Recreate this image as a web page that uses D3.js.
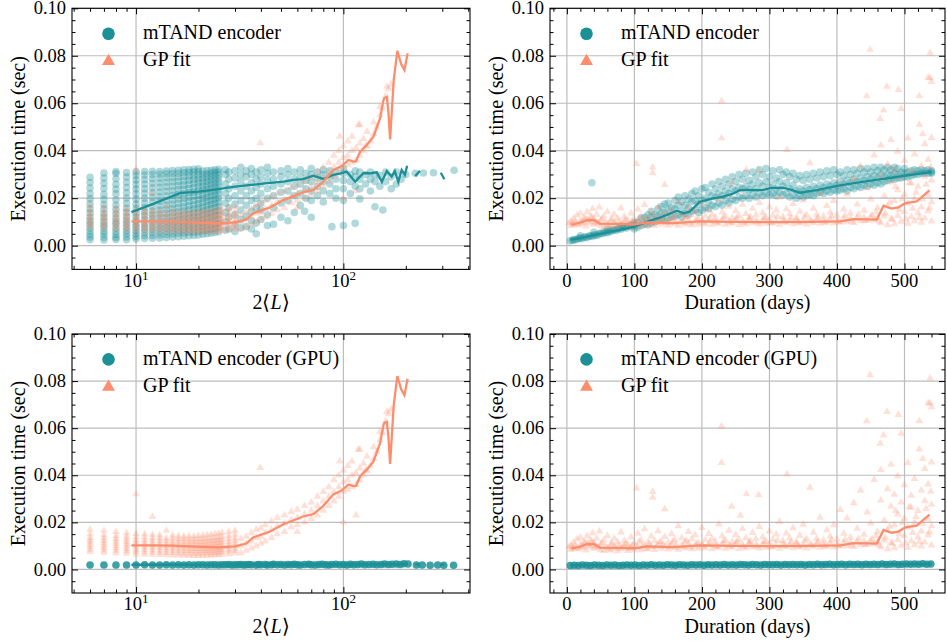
<!DOCTYPE html>
<html>
<head>
<meta charset="utf-8">
<script src="https://cdn.jsdelivr.net/npm/d3@7"></script>
<style>
  body { margin: 0; background: #fff; }
  svg { font-family: "Liberation Serif", "Times New Roman", serif; }
</style>
</head>
<body>
<script>
// all execution times below are in milliseconds

// CPU encoder vs 2<L> : discrete columns, then scattered points
const cpuLenCols = [
  [6,  [2.5,3.6,4.8,6.2,7.5,9,10.4,12,13.8,15.5,17.6,19.8,22,24.3,26.6,28.8]],
  [7,  [2.4,3.5,4.9,6.1,7.6,8.8,10.3,11.9,13.5,15.4,17.3,19.5,21.6,24.1,26.3,28.5,30.6]],
  [8,  [2.6,3.4,4.6,5.9,7.3,8.9,10.1,11.6,13.4,15.2,17.1,19.3,21.9,23.8,25.9,28.2,30.4,31.2]],
  [9,  [2.5,3.7,5,6.3,7.7,9.2,10.6,12.2,13.9,15.7,17.8,20.1,22.3,24.5,26.7,28.9,30.8]],
  [10, [2.8,3.9,5.1,6.4,7.8,9.1,10.5,12.1,13.7,15.6,17.5,19.6,21.8,23.9,25.8,27.7,29.6,31.1]],
  [11, [3,4.2,5.5,6.9,8.2,9.6,11,12.7,14.3,16.1,18,20,22.1,24,26,27.9,29.8,31.2]],
  [12, [3.1,4.3,5.6,7,8.4,9.9,11.4,13,14.6,16.4,18.3,20.3,22.4,24.4,26.3,28.2,30,31.3]],
  [13, [3.2,4.5,5.8,7.2,8.6,10.1,11.7,13.3,15,16.8,18.7,20.6,22.6,24.6,26.5,28.4,30.1,31.2]],
  [14, [3.4,4.7,6,7.4,8.8,10.3,11.9,13.6,15.3,17.1,19,20.9,22.9,24.8,26.7,28.6,30.3,31.4]],
  [15, [3.6,4.9,6.3,7.7,9.1,10.6,12.2,13.9,15.6,17.4,19.3,21.2,23.1,25,26.9,28.7,30.4,31.6]],
  [16, [3.8,5.2,6.6,8,9.5,11,12.6,14.2,16,17.8,19.7,21.6,23.5,25.3,27.1,28.9,30.5,31.8]],
  [17, [4,5.4,6.8,8.3,9.8,11.3,12.9,14.6,16.3,18.1,20,21.9,23.7,25.5,27.3,29.1,30.7,32]],
  [18, [4.2,5.7,7.1,8.6,10.1,11.7,13.3,15,16.8,18.6,20.4,22.3,24.1,25.9,27.6,29.3,30.9,32.1]],
  [19, [4.3,5.8,7.3,8.9,10.5,12.1,13.7,15.4,17.2,19,20.8,22.6,24.4,26.2,27.9,29.5,31,32.2]],
  [20, [4.5,6,7.6,9.2,10.8,12.4,14.1,15.8,17.6,19.4,21.2,23,24.8,26.5,28.1,29.7,31.2,32.4]],
  [21, [4.8,6.4,8,9.6,11.2,12.9,14.6,16.3,18.1,19.9,21.6,23.4,25.1,26.8,28.4,30,31.4]],
  [22, [5,6.6,8.3,10,11.7,13.4,15.1,16.9,18.6,20.4,22.1,23.8,25.5,27.1,28.7,30.2,31.6]],
  [23, [5.3,7,8.7,10.4,12.1,13.8,15.6,17.4,19.1,20.9,22.6,24.3,25.9,27.5,29,30.5,31.8]],
  [24, [5.6,7.3,9,10.8,12.6,14.3,16.1,17.9,19.6,21.3,23,24.7,26.3,27.9,29.4,30.8,32]],
  [25, [5.9,7.6,9.4,11.2,13,14.8,16.6,18.3,20.1,21.8,23.5,25.1,26.7,28.2,29.7,31,32.2]]
]
const cpuLenScatter = [
  [27,6.5],[27,10],[27,14],[27,18],[27,22],[27,26],[27,30],[27,32],
  [28,7],[28,12],[28,16],[28,20],[28,24],[28,28],[28,31],
  [30,6],[30,9],[30,13],[30,17.5],[30,21],[30,25],[30,28.5],[30,31.5],
  [32,7.5],[32,11],[32,15],[32,19],[32,23],[32,27],[32,30],[32,33],
  [34,8],[34,12.5],[34,17],[34,21],[34,25],[34,29],[34,31.5],
  [36,7],[36,10.5],[36,14.5],[36,19],[36,23],[36,26.5],[36,30],[36,32.5],
  [38,5],[38,9.5],[38,16],[38,20],[38,24.5],[38,28],[38,31],
  [40,11],[40,15],[40,18],[40,22],[40,26],[40,29],[40,32],
  [43,8.5],[43,13],[43,20],[43,24],[43,27.5],[43,30.5],[43,33],
  [46,9],[46,16],[46,21],[46,25],[46,28],[46,31],
  [50,12],[50,18],[50,22.5],[50,26],[50,29],[50,31.5],
  [54,10.5],[54,19],[54,23],[54,27],[54,30],[54,32.5],
  [58,14],[58,21],[58,25],[58,28],[58,31],
  [62,17],[62,22],[62,26],[62,29],[62,32],
  [65,14.5],[66,20],[66,24],[66,27.5],[66,30.5],
  [70,12],[70,19],[70,23],[70,27],[70,30],[70,32.5],
  [75,21],[75,25],[75,28.5],[75,31],
  [80,18.4],[80,23],[80,27],[80,30],[80,32],
  [86,22],[86,26],[86,29],[86,31.5],[88,8],
  [92,20],[92,24],[92,28],[92,31],
  [100,8.5],[100,19],[100,24],[100,27.5],[100,30.5],[100,32.5],
  [108,22],[108,27],[108,30],[114,9.4],[114,25],[114,29],[114,31.5],
  [120,19.7],[120,24],[120,28],[120,31],[128,26],[128,30],[135,23],[135,28],[135,31],
  [142,16.4],[142,27],[142,30],[150,25],[150,29.5],[155,15],[160,27],[160,31],
  [170,24],[170,29],[180,26],[180,31],[190,28],[200,30],
  [222,30.5],[243,30.6],[272,30.7],[342,31.8]
]
const cpuLenLine = [
  [9.5,14.1],[12,17.5],[16.3,22.1],[20,22.8],[25,23.8],[29.4,24.8],[35,25.5],[42,26.2],
  [51.4,27],[57.4,27.7],[64,28],[71.6,29.5],[80,28.1],[89.5,29.8],[96,30.3],[103.8,31.2],
  [113.9,26.9],[124.9,30.5],[134.5,30.5],[144.9,30.9],[153.2,26.9],[162,31.4],[171,29.1],
  [177,31.4],[184,26.9],[191,31.9],[198,29.8],[203,33.7],
  null, [222,29.3],[234,31.5], null, [295,30.7],[307,28]
]

// GP fit vs 2<L> (shared by both left panels)
const gpLenCols = [
  [6,  [7.5,8.5,9.5,10.5,11.5,12.5,13.5,15,17]],
  [7,  [7.2,8.2,9.2,10.2,11.2,12.2,13.3,14.5,16.5]],
  [8,  [7,8,9,10,11,12,13,14.2,16]],
  [9,  [6.8,7.8,8.8,9.8,10.8,11.8,12.8,14,15.5]],
  [10, [6.5,7.5,8.5,9.5,10.5,11.5,12.5,13.8,15.2,32]],
  [11, [6.4,7.4,8.4,9.4,10.4,11.4,12.5,13.7,15]],
  [12, [6.3,7.3,8.3,9.3,10.3,11.3,12.4,13.5,14.8,22.4]],
  [13, [6.2,7.2,8.2,9.2,10.2,11.2,12.3,13.4,14.6]],
  [14, [6.1,7.1,8.1,9.1,10.1,11.1,12.2,13.3,16.5]],
  [15, [6,7,8,9,10,11,12,13.2,14.4]],
  [16, [6,7,8,9,10,11,12,13,14.2]],
  [17, [5.9,6.9,7.9,8.9,9.9,10.9,11.9,13,14]],
  [18, [5.9,6.9,7.9,8.9,9.9,10.9,11.9,12.9,14.2]],
  [19, [5.8,6.8,7.8,8.8,9.8,10.8,11.8,12.8,14]],
  [20, [5.8,6.8,7.8,8.8,9.8,10.8,11.8,12.9,14.3]],
  [21, [5.9,6.9,7.9,8.9,9.9,10.9,11.9,13,14.4]],
  [22, [5.9,6.9,7.9,8.9,9.9,10.9,12,13.1,14.6]],
  [23, [6,7,8,9,10,11,12.1,13.3,14.8]],
  [24, [6.1,7.1,8.1,9.1,10.1,11.1,12.2,13.4,15]],
  [25, [6.2,7.2,8.2,9.2,10.2,11.3,12.4,13.6,15.3]],
  [26, [6.4,7.4,8.4,9.4,10.4,11.5,12.6,13.9,15.6]],
  [28, [6.6,7.6,8.6,9.6,10.7,11.8,13,14.3,16]],
  [30, [6.9,7.9,8.9,10,11.1,12.2,13.4,14.8,16.5]]
]
const gpLenScatter = [
  [32,7],[32,10],[32,13],[34,8],[34,11],[34,14],[36,9],[36,12],[36,15.5],[38,10],[38,13.5],[38,17],
  [40,11],[40,14],[40,17.5],[39.7,43.2],[42,12],[42,15.5],[42,19],[45,13.5],[45,17],[45,20.5],
  [48,15],[48,18.5],[48,22],[52,16],[52,19.5],[52,23],[56,18],[56,21],[56,24.5],
  [60,16],[60,19],[60,22],[60,25.5],[65,20],[65,23.5],[65,27],[70,21.5],[70,25],[70,28.5],
  [75,23],[75,27],[75,31],[80,25],[80,29],[80,33],[85,27],[85,31],[85,35],
  [90,29],[90,33],[90,38],[95,31],[95,35],[95,40],[96,46],[100,20],[100,33],[100,37],[100,42],
  [105,34],[105,38],[105,44],[110,35],[110,40],[110,46],[115,23],[115,36],[115,41],
  [118,50.8],[120,38],[120,43],[120,51],[125,40],[125,45],[128,42],[130,42],[130,48],
  [135,44],[140,47],[140,52],[145,50],[150,55],[150,58.5],[155,58],[160,63],[162,67],
  [165,66],[170,68]
]
const gpLenLine = [
  [9.5,10.2],[12,10.2],[15,10.1],[18,9.8],[21,9.6],[25,9.4],[30,9.8],[34,11],[36.7,13.6],
  [44,16],[51.4,19.2],[58,21],[64,22.5],[71.6,23.5],[80,27],[89.5,31.9],[98,33.5],
  [105.8,36.1],[111.7,35.4],[115,35.5],[120.4,39.6],[130,42.5],[139.6,45.9],[150.3,53.6],
  [156,61.3],[158,62.3],[162,62.7],[165,56],[168,44.8],[175,70],[182,82.1],[190,76.5],
  [197,74],[204,81]
]

// GPU encoder vs 2<L>
const gpuLen = [
  [6,1.9],[7,1.9],[8,1.9],[9,1.9],[10,1.9],[11,2],[12,1.9],[13,1.9],[14,2],[15,1.9],[16,2],
  [17,1.9],[18,2],[19,1.9],[20,2],[21,2],[22,1.9],[23,2],[24,2],[25,1.9],[26,2],[27,2],[28,2.1],
  [29,1.9],[30,2],[31,2],[32,2.1],[33,1.9],[34,2],[35,2.1],[36,2],[38,1.9],[39,2.1],[40,2],
  [42,2.1],[43,1.9],[45,2],[46,2.2],[48,2],[50,2.1],[52,1.9],[54,2.1],[56,2],[58,2.2],[60,2],
  [62,1.9],[65,2.1],[68,2.2],[70,2],[73,1.9],[76,2.1],[79,2.2],[82,2],[85,1.9],[88,2.1],[92,2.2],
  [96,2],[100,2.1],[104,1.9],[108,2.2],[112,2],[117,2.1],[122,2.3],[127,2],[133,2.1],[139,2.2],
  [145,2],[152,2.1],[158,2.3],[165,2.1],[172,2.2],[180,2.3],[188,2.1],[196,2.4],[205,2.3],
  [225,1.9],[240,1.9],[262,1.8],[285,1.9],[305,1.8],[340,1.8]
]
const gpuLenLine = [
  [9.5,2],[25,2],[60,2.1],[100,2.1],[160,2.2],[190,2.2],[205,2.4],
  null, [222,2.2],[234,2.1], null, [295,2.1],[307,1.9]
]

// CPU encoder vs duration (days)
const cpuDur = [
  [5,2],[8,2.3],[10,2.6],[12,2.4],[15,2.8],[18,3],[20,3.3],[20,4.2],[22,2.9],[25,3.5],[28,3.7],
  [30,3.4],[33,4],[35,4.2],[37,26.5],[38,3.9],[40,4.5],[40,5.6],[43,4.6],[45,4.3],[48,5],[50,5.2],
  [53,5],[55,5.6],[58,5.8],[60,5.4],[60,6.8],[63,6.2],[65,6],[68,6.5],[70,6.8],[73,6.4],[75,7],
  [78,7.3],[80,6.9],[80,8.3],[83,7.6],[85,7.8],[88,7.4],[90,8.2],[93,8.5],[95,8],[98,8.8],
  [100,8.3],[100,9.6],[100,7],
  [105,7.8],[105,10],[110,8.5],[110,11.5],[115,9],[115,12],[120,8.8],[120,10.5],[120,13],
  [125,9.5],[125,12],[125,14.5],[130,10],[130,13],[135,10.5],[135,12.5],[135,15.5],
  [140,11],[140,13.5],[140,16.5],[145,10.5],[145,14],[145,17.5],[150,11.5],[150,15],[150,18],
  [155,12],[155,16],[160,12.5],[160,15.5],[160,19],[165,13],[165,17],[165,20.5],
  [170,12],[170,14.5],[170,18.5],[175,13.5],[175,17],[175,21],[180,13],[180,16],[180,19.5],
  [185,14.5],[185,18.5],[185,22],[190,15],[190,19],[190,23],[195,14],[195,17.5],[195,21],
  [200,15],[200,19],[200,24],
  [205,16],[205,20],[205,24.5],[210,15.5],[210,18.5],[210,22.5],[215,17],[215,21],[215,26],
  [220,16.5],[220,20.5],[220,24],[225,18],[225,22],[225,27],[230,17],[230,21],[230,25],
  [235,19],[235,23],[235,28],[240,18],[240,22],[240,26],[245,19.5],[245,24],[245,29],
  [250,19],[250,23],[250,27],[255,20.5],[255,24.5],[255,30],[260,20],[260,24],[260,28],
  [265,21],[265,25],[265,30.5],[270,20],[270,23.5],[270,27.5],[275,21.5],[275,26],[275,31],
  [280,20.5],[280,24],[280,29],[285,22],[285,26.5],[285,32],[290,21],[290,25],[290,30],
  [295,22],[295,27],[295,32.5],[300,21.5],[300,24.5],[300,29],
  [305,22],[305,26],[305,31.5],[310,21],[310,24],[310,28.5],[315,22.5],[315,27],[315,32],
  [320,21.5],[320,25],[320,30],[325,22],[325,26.5],[325,31],[330,20.5],[330,24],[330,29],
  [335,21.5],[335,25.5],[335,30.5],[340,20],[340,23],[340,28],[345,21],[345,24],[345,29.5],
  [350,20.5],[350,23],[350,27.5],[355,21],[355,24.5],[355,30],[360,21.5],[360,23.5],[360,28],
  [365,21],[365,25],[365,30.5],[370,22],[370,24],[370,28.5],[375,22.5],[375,25.5],[375,31],
  [380,22],[380,24.5],[380,29],[385,23],[385,26],[385,31.5],[390,22.5],[390,25],[390,29.5],
  [395,23.5],[395,26.5],[395,32],[400,23],[400,25.5],[400,30],
  [405,23.5],[405,27],[405,31],[410,24],[410,26],[410,29.5],[415,23],[415,27.5],[415,32],
  [420,24.5],[420,26.5],[420,30],[425,24],[425,28],[425,32],[430,25],[430,27],[430,30.5],
  [435,24.5],[435,28.5],[435,32.5],[440,25.5],[440,27.5],[440,31],[445,25],[445,29],[445,32.5],
  [450,26],[450,28],[450,31],[455,25.5],[455,29.5],[455,33],[460,26.5],[460,28.5],[460,31.5],
  [465,26],[465,30],[465,33],[470,27],[470,29],[470,32],[475,27.5],[475,30],[475,33],
  [480,28],[480,29.5],[480,32],[485,28],[485,30.5],[485,33],[490,28.5],[490,30],[490,32.5],
  [495,28.5],[495,31],[500,29],[500,30.5],[500,32.5],[505,29],[505,31],[510,29.5],[510,31.5],
  [515,30],[515,32],[520,30],[520,31.5],[525,30.5],[525,32],[530,30.5],[530,31.5],
  [535,30.5],[535,32],[540,30.5],[540,31.5],[540,31]
]
const cpuDurLine = [
  [5,2.5],[20,3.2],[40,4.4],[60,5.6],[80,6.8],[100,8],[120,10.2],[140,12],[163,14.7],
  [173,13.6],[182,14.4],[197,18.5],[215,19.8],[230,20.6],[245,21.8],[256,23.4],[275,23.5],
  [290,23.4],[301,24.2],[320,24.4],[334,23.4],[345,22.3],[370,23.4],[400,25.2],[430,26.6],
  [460,27.8],[490,29],[520,30.2],[540,31]
]

// GP fit vs duration (shared by both right panels)
const gpDur = [
  [6,8.4],[6,10.2],[8,9.6],[10,8.8],[10,11.5],[14,9.2],[15,12.8],[18,8.6],[20,10.4],[20,13.6],
  [24,9.8],[25,11.8],[28,8.2],[30,10.9],[30,14.2],[34,9.4],[35,12.3],[38,15.5],[40,8.9],[40,11.2],
  [44,13.1],[45,9.7],[48,16.2],[50,8.3],[50,10.6],[55,7.9],[55,12.4],[60,9.1],[60,14.3],[65,8.1],
  [65,10.8],[70,9.5],[70,13.2],[75,7.8],[75,11.6],[80,8.7],[80,15.8],[85,9.8],[85,12.2],[90,7.9],
  [90,10.6],[95,9.2],[95,13.7],[100,8.1],[100,11.1],[103,34.5],[105,9.4],[105,15.3],[110,8.3],
  [110,12.4],[115,10.1],[115,17.2],[120,8.7],[120,11.5],[127,33],[127,30.6],[125,9.6],[125,14.1],
  [130,8.4],[130,12.1],[135,10.3],[135,16.3],[140,8.9],[140,11.8],[145,25.7],[145,9.7],[145,13.9],
  [150,8.6],[150,11.4],[155,10.5],[155,15.1],[160,9.2],[160,12.6],[165,8.5],[165,18.4],[170,10.2],
  [170,13.4],[175,9],[175,11.7],[180,10.8],[180,16],[185,8.7],[185,12.9],[190,9.9],[190,14.6],
  [195,8.9],[195,11.3],[200,10.4],[200,17.7],[205,9.1],[205,12.5],[210,10.6],[210,15.2],[215,8.8],
  [215,13.1],[220,10.1],[220,11.9],[225,9.3],[225,19.2],[229,60.8],[229,45.3],[230,10.7],[230,14.2],
  [235,8.9],[235,12.3],[240,10.2],[240,16.5],[244,26.7],[245,9.4],[245,11.8],[250,10.9],[250,14.7],
  [255,8.8],[257,22.9],[255,12.6],[260,10.3],[260,17.3],[265,9.1],[266,32],[265,13.4],[270,10.8],
  [270,11.6],[275,9.5],[275,15.6],[280,10.4],[280,12.9],[284,31.6],[285,9],[285,18.1],[290,10.6],
  [290,13.8],[295,9.3],[295,11.9],[300,10.8],[300,16.2],[305,9.4],[305,12.7],[310,10.3],[310,14.9],
  [315,8.9],[315,20.3],[320,10.7],[320,12.2],[326,40.4],[325,9.6],[325,15.4],[330,10.5],[330,13.3],
  [335,9.1],[335,17.6],[340,10.9],[340,11.8],[345,9.5],[345,14.4],[350,10.2],[350,19.1],[355,9],
  [355,12.9],[360,10.8],[360,34.8],[365,9.7],[365,15.7],[370,11],[370,13.1],[375,9.3],[375,22.1],
  [380,10.6],[380,12.4],[385,9.9],[385,16.8],[390,11.2],[390,14],[395,9.4],[395,18.9],[400,10.7],
  [400,12.8],[405,9.8],[405,25.4],[410,11.3],[410,15.3],[415,10],[415,21.7],[420,11.5],[420,13.6],
  [425,9.6],[425,28.2],[430,11.8],[430,17.4],[435,10.4],[435,33.5],[440,11.9],[440,14.8],[444,63],
  [445,10.6],[445,24.3],[449,82.6],[450,12.1],[450,19.6],[455,10.8],[455,38.1],[460,11.7],
  [460,15.9],[464,53.5],[465,9.5],[465,29.4],[465,42.3],[469,57],[470,12.4],[470,20.8],[474,67],
  [475,8.7],[475,34.2],[475,16.5],[480,11.3],[480,26.7],[480,44.6],[485,9.1],[485,18.9],[485,31.8],
  [491,65.7],[490,12.6],[490,23.4],[490,39.7],[495,57.7],[495,10.2],[495,28.5],[500,14.3],
  [500,21.6],[500,35.9],[505,9.3],[505,17.8],[505,45.2],[510,12.1],[510,26.3],[510,31.4],
  [515,10.4],[515,19.7],[515,38.5],[520,13.8],[520,24.9],[522,63],[522,51],[525,9.8],[525,16.2],
  [525,33.6],[527,47],[530,11.5],[530,29.1],[530,42.8],[535,70.7],[535,14.6],[535,21.3],
  [535,36.2],[538,81.2],[538,70.6],[540,69],[540,10.3],[540,18.4],[540,27.6],[540,45.5]
]
const gpDurBand = [
  [3,9.5],[12,10.1],[22,9.3],[27,11.4],[33,10.2],[37,11.9],[42,10.1],[47,9.2],[52,11.3],[57,9.8],
  [62,8.6],[67,11.1],[72,8.9],[77,10.3],[82,9.4],[87,10.9],[92,8.8],[97,10.4],[102,9.6],[107,11.7],
  [112,9.9],[117,8.9],[122,10.8],[132,9.7],[137,11.6],[142,10.1],[152,9.5],[157,11.9],[162,10.4],
  [172,9.6],[177,12.3],[182,9.4],[192,10.9],[202,9.8],[212,11.4],[222,9.6],[232,11.9],[242,9.8],
  [252,11.8],[262,9.7],[272,12.1],[282,9.9],[292,11.7],[302,9.6],[312,12.3],[322,10.1],[332,11.6],
  [342,9.9],[352,12.1],[362,10.3],[372,11.8],[382,9.8],[392,12.4],[402,10.1],[412,12.6],[422,10.3],
  [432,13.1],[442,10.5],[452,12.9],[458,14.2],[462,10.2],[472,13.5],[478,18.2],[482,10.9],
  [487,24.8],[492,15.1],[497,19.8],[502,11.2],[507,26.5],[512,15.6],[517,22.4],[522,11.8],
  [527,19.5],[532,25.8],[537,15.9],[539,33.1]
]
const gpDurLine = [
  [7,8.8],[18,9.6],[30,10.7],[40,10.7],[49,9.3],[75,9.2],[101,9],[118,9.8],[158,9.5],[198,10.2],
  [250,10],[306,9.9],[360,10],[405,10.2],[425,11.2],[459,11],[469,16.8],[481,15.6],[491,16.1],
  [501,17.9],[518,18.6],[537,23.3]
]

// GPU encoder vs duration
const gpuDur = [
  [5,1.7],[11,1.8],[17,1.7],[23,1.9],[29,1.8],[35,1.7],[41,1.9],[47,1.8],[53,1.7],[59,1.9],
  [65,1.8],[71,1.9],[77,1.7],[83,1.8],[89,1.9],[95,1.8],[101,1.9],[107,1.7],[113,1.9],[119,1.8],
  [125,2],[131,1.8],[137,1.9],[143,1.8],[149,2],[155,1.9],[161,1.8],[167,2],[173,1.9],[179,1.8],
  [185,2],[191,1.9],[197,2],[203,1.8],[209,2],[215,1.9],[221,2],[227,1.9],[233,2.1],[239,1.9],
  [245,2],[251,1.9],[257,2.1],[263,2],[269,1.9],[275,2.1],[281,2],[287,1.9],[293,2.1],[299,2],
  [305,2],[311,2.1],[317,1.9],[323,2.1],[329,2],[335,2.1],[341,2],[347,2.1],[353,1.9],[359,2.1],
  [365,2],[371,2.2],[377,2],[383,2.1],[389,2.2],[395,2],[401,2.1],[407,2.2],[413,2],[419,2.2],
  [425,2.1],[431,2.2],[437,2],[443,2.2],[449,2.1],[455,2.2],[461,2.1],[467,2.3],[473,2.1],
  [479,2.2],[485,2.3],[491,2.1],[497,2.2],[503,2.3],[509,2.2],[515,2.3],[521,2.2],[527,2.4],
  [533,2.2],[539,2.3]
]
const gpuDurLine = [[5,1.8],[100,1.85],[200,1.95],[300,2],[400,2.1],[540,2.25]]

// axes
const yMajor = [0, 0.02, 0.04, 0.06, 0.08, 0.10]
const yMinor = [-0.005, 0.005, 0.01, 0.015, 0.025, 0.03, 0.035, 0.045, 0.05, 0.055, 0.065, 0.07, 0.075, 0.085, 0.09, 0.095]
const lenMajor = [10, 100]
const lenMinor = [5, 6, 7, 8, 9, 20, 30, 40, 50, 60, 70, 80, 90, 200, 300, 400]
const durMajor = [0, 100, 200, 300, 400, 500]
const durMinor = [-20, 20, 40, 60, 80, 120, 140, 160, 180, 220, 240, 260, 280, 320, 340, 360, 380, 420, 440, 460, 480, 520, 540]

const teal = "#1b9097"
const salmon = "#fc8d6d"
const fsTick = 18.5
const fs = 20

const flat = cols => cols.flatMap(([x, ys]) => ys.map(v => [x, v]))

const panels = [
  {left: 72, right: 470, top: 8.3, bottom: 269.4, log: true, label: "mTAND encoder",
   teal: flat(cpuLenCols).concat(cpuLenScatter), tealLine: cpuLenLine, tealOp: 0.34,
   salmon: flat(gpLenCols).concat(gpLenScatter), salmonLine: gpLenLine},
  {left: 550, right: 945, top: 8.3, bottom: 269.4, log: false, label: "mTAND encoder",
   teal: cpuDur, tealLine: cpuDurLine, tealOp: 0.34, salmon: gpDur.concat(gpDurBand), salmonLine: gpDurLine},
  {left: 72, right: 470, top: 334, bottom: 593, log: true, label: "mTAND encoder (GPU)",
   teal: gpuLen, tealLine: gpuLenLine, tealOp: 0.85,
   salmon: flat(gpLenCols).concat(gpLenScatter), salmonLine: gpLenLine},
  {left: 550, right: 945, top: 334, bottom: 593, log: false, label: "mTAND encoder (GPU)",
   teal: gpuDur, tealLine: gpuDurLine, tealOp: 0.85, salmon: gpDur.concat(gpDurBand), salmonLine: gpDurLine}
]

const svg = d3.select("body").append("svg")
  .attr("width", 947)
  .attr("height", 643)

const tri = d3.symbol(d3.symbolTriangle, 26)
const triBig = d3.symbol(d3.symbolTriangle, 72)

const drawPanel = p => {
  const g = svg.append("g")
  const x = p.log
    ? d3.scaleLog().domain([4.91, 408]).range([p.left, p.right])
    : d3.scaleLinear().domain([-25, 560]).range([p.left, p.right])
  const y = d3.scaleLinear().domain([-0.01, 0.10]).range([p.bottom, p.top])
  const xMajor = p.log ? lenMajor : durMajor
  const xMinor = p.log ? lenMinor : durMinor

  // grid
  g.selectAll(".gx").data(xMajor).join("line")
    .attr("x1", d => x(d)).attr("x2", d => x(d))
    .attr("y1", p.top).attr("y2", p.bottom)
    .attr("stroke", "#bdbdbd").attr("stroke-width", 1.2)
  g.selectAll(".gy").data(yMajor).join("line")
    .attr("x1", p.left).attr("x2", p.right)
    .attr("y1", d => y(d)).attr("y2", d => y(d))
    .attr("stroke", "#bdbdbd").attr("stroke-width", 1.2)

  // scatter
  g.append("g").selectAll("circle").data(p.teal).join("circle")
    .attr("cx", d => x(d[0])).attr("cy", d => y(d[1] / 1000))
    .attr("r", 3.8).attr("fill", teal).attr("fill-opacity", p.tealOp)
  g.append("g").selectAll("path").data(p.salmon).join("path")
    .attr("d", tri)
    .attr("transform", d => `translate(${x(d[0])},${y(d[1] / 1000)})`)
    .attr("fill", salmon).attr("fill-opacity", 0.27)

  // mean lines
  const line = d3.line()
    .defined(d => d != null)
    .x(d => x(d[0])).y(d => y(d[1] / 1000))
  g.append("path").datum(p.tealLine).attr("d", line)
    .attr("fill", "none").attr("stroke", teal).attr("stroke-width", 2.3)
  g.append("path").datum(p.salmonLine).attr("d", line)
    .attr("fill", "none").attr("stroke", salmon).attr("stroke-width", 2.3)

  // ticks, inward on all four sides
  const tk = (axis, scale, vals, size, tr) => {
    g.append("g").attr("transform", tr)
      .call(axis(scale).tickValues(vals).tickSize(-size).tickSizeOuter(0).tickFormat(""))
      .call(a => a.select(".domain").remove())
  }
  tk(d3.axisBottom, x, xMajor, 6, `translate(0,${p.bottom})`)
  tk(d3.axisBottom, x, xMinor, 3.5, `translate(0,${p.bottom})`)
  tk(d3.axisTop, x, xMajor, 6, `translate(0,${p.top})`)
  tk(d3.axisTop, x, xMinor, 3.5, `translate(0,${p.top})`)
  tk(d3.axisLeft, y, yMajor, 6, `translate(${p.left},0)`)
  tk(d3.axisLeft, y, yMinor, 3.5, `translate(${p.left},0)`)
  tk(d3.axisRight, y, yMajor, 6, `translate(${p.right},0)`)
  tk(d3.axisRight, y, yMinor, 3.5, `translate(${p.right},0)`)

  g.append("rect")
    .attr("x", p.left).attr("y", p.top)
    .attr("width", p.right - p.left).attr("height", p.bottom - p.top)
    .attr("fill", "none").attr("stroke", "#000").attr("stroke-width", 1.1)

  // tick labels
  g.selectAll(".yl").data(yMajor).join("text")
    .attr("x", p.left - 6).attr("y", d => y(d)).attr("dy", "0.33em")
    .attr("text-anchor", "end").attr("font-size", fsTick)
    .text(d => d.toFixed(2))
  const xl = g.selectAll(".xl").data(xMajor).join("text")
    .attr("x", d => x(d)).attr("y", p.bottom + 17.3)
    .attr("text-anchor", "middle").attr("font-size", fsTick)
  if (p.log) {
    xl.append("tspan").text("10")
    xl.append("tspan").attr("dy", -7).attr("font-size", 13).text(d => Math.log10(d))
  } else {
    xl.text(d => d)
  }

  // axis titles
  const xt = g.append("text")
    .attr("x", (p.left + p.right) / 2).attr("y", p.bottom + 40)
    .attr("text-anchor", "middle").attr("font-size", fs)
  if (p.log) {
    xt.append("tspan").text("2\u27E8")
    xt.append("tspan").attr("font-style", "italic").text("L")
    xt.append("tspan").text("\u27E9")
  } else {
    xt.text("Duration (days)")
  }
  g.append("text")
    .attr("transform", `translate(${p.left - 47},${(p.top + p.bottom) / 2}) rotate(-90)`)
    .attr("text-anchor", "middle").attr("font-size", fs)
    .text("Execution time (sec)")

  // legend
  g.append("circle")
    .attr("cx", p.left + 36.5).attr("cy", p.top + 25.4).attr("r", 6.3).attr("fill", teal)
  g.append("path").attr("d", triBig)
    .attr("transform", `translate(${p.left + 36.5},${p.top + 53})`).attr("fill", salmon)
  g.append("text").attr("x", p.left + 71).attr("y", p.top + 31)
    .attr("font-size", fs).text(p.label)
  g.append("text").attr("x", p.left + 71).attr("y", p.top + 57.5)
    .attr("font-size", fs).text("GP fit")
}

panels.forEach(drawPanel)
</script>
</body>
</html>
